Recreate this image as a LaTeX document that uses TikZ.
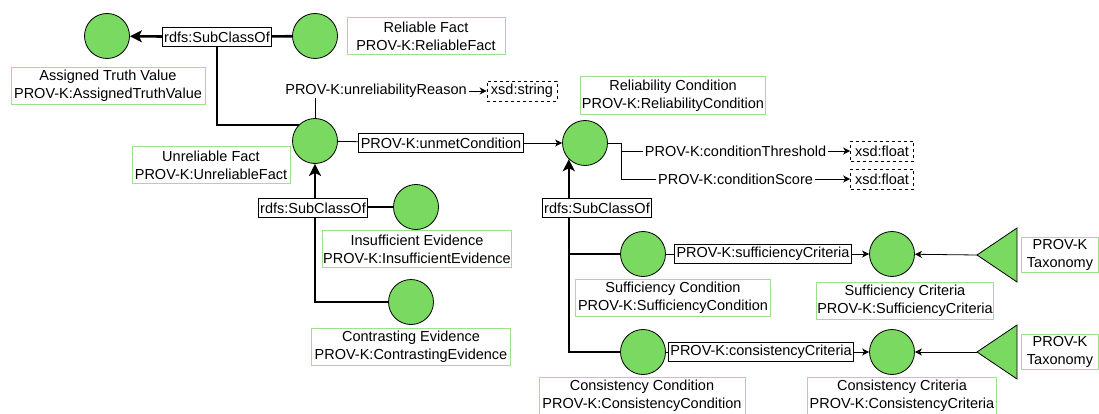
\documentclass[tikz,border=0pt]{standalone}
\usepackage{fontspec}
\setmainfont{Liberation Sans}
\usetikzlibrary{arrows.meta}
\definecolor{classgreen}{RGB}{122,217,96}
\definecolor{namegreen}{RGB}{160,224,140}

\begin{document}
\begin{tikzpicture}[x=1pt,y=-1pt,
    font=\fontsize{14.5}{18}\selectfont,
    cls/.style={circle,draw=black,fill=classgreen,line width=0.8pt,minimum size=45pt,inner sep=0pt},
    tagbox/.style={draw=namegreen,line width=1pt,fill=white,align=center,inner sep=0pt,minimum height=37pt},
    prop/.style={draw=black,fill=white,line width=0.8pt,inner xsep=2pt,inner ysep=0pt,minimum height=19pt},
    lit/.style={draw=black,dashed,line width=0.6pt,inner xsep=2pt,inner ysep=0pt,minimum height=20pt},
    plain/.style={fill=white,inner xsep=2pt,inner ysep=0pt},
    subcls/.style={line width=2.6pt},
    subarr/.style={subcls,-{Stealth[length=12pt,width=12pt,inset=3pt]}},
    rel/.style={line width=0.8pt},
    relarr/.style={rel,-{Stealth[length=7pt,width=7pt,inset=2pt]}},
    tax/.style={draw=black,fill=classgreen,line width=0.8pt}]
    \useasboundingbox (0,0) rectangle (1099,414);

    \node[cls] (atv) at (107,36) {};
    \node[cls] (rf) at (315,36) {};
    \node[cls] (uf) at (315,141) {};
    \node[cls] (rc) at (585,143) {};
    \node[cls] (ie) at (416,207) {};
    \node[cls] (ce) at (411,302) {};
    \node[cls] (sc) at (643,254) {};
    \node[cls] (scr) at (892,254) {};
    \node[cls] (cc) at (643,352) {};
    \node[cls] (ccr) at (892,352) {};

    \node[tagbox,minimum width=194pt] (atvN) at (108,86) {Assigned Truth Value\\PROV-K:AssignedTruthValue};
    \node[tagbox,minimum width=158pt] (rfN) at (426,36) {Reliable Fact\\PROV-K:ReliableFact};
    \node[tagbox,minimum width=158pt] (ufN) at (211,165) {Unreliable Fact\\PROV-K:UnreliableFact};
    \node[tagbox,minimum width=185pt,minimum height=38pt] (rcN) at (673,96) {Reliability Condition\\PROV-K:ReliabilityCondition};
    \node[tagbox,minimum width=189pt] (ieN) at (417,249) {Insufficient Evidence\\PROV-K:InsufficientEvidence};
    \node[tagbox,minimum width=199pt] (ceN) at (411,347) {Contrasting Evidence\\PROV-K:ContrastingEvidence};
    \node[tagbox,minimum width=195pt] (scN) at (673,298) {Sufficiency Condition\\PROV-K:SufficiencyCondition};
    \node[tagbox,minimum width=177pt] (scrN) at (905,301) {Sufficiency Criteria\\PROV-K:SufficiencyCriteria};
    \node[tagbox,minimum width=206pt] (ccN) at (642,396) {Consistency Condition\\PROV-K:ConsistencyCondition};
    \node[tagbox,minimum width=189pt] (ccrN) at (902,396) {Consistency Criteria\\PROV-K:ConsistencyCriteria};
    \node[tagbox,minimum width=77pt,minimum height=35pt] (tax1N) at (1060,255) {PROV-K\\Taxonomy};
    \node[tagbox,minimum width=77pt,minimum height=35pt] (tax2N) at (1060,352) {PROV-K\\Taxonomy};

    \node[lit,minimum width=70pt] (str) at (522,91) {xsd:string};
    \node[lit,minimum width=63pt] (fl1) at (882,151) {xsd:float};
    \node[lit,minimum width=63pt] (fl2) at (882,179) {xsd:float};
    \node[plain] (reason) at (376,91) {PROV-K:unreliabilityReason};

    \node[prop] (sub1) at (217,37) {rdfs:SubClassOf};
    \node[prop] (unmet) at (441,143) {PROV-K:unmetCondition};
    \node[prop] (scrit) at (763,254) {PROV-K:sufficiencyCriteria};
    \node[prop] (ccrit) at (761,352) {PROV-K:consistencyCriteria};

    \coordinate (tx1) at (977,255);
    \coordinate (tx2) at (977,352);
    \draw[tax] (tx1) -- ++(40,-27) -- ++(0,54) -- cycle;
    \draw[tax] (tx2) -- ++(40,-27) -- ++(0,54) -- cycle;

    \draw[subcls] (rf) -- (sub1);
    \draw[subarr] (sub1) -- (atv);
    \draw[subcls] (uf.north west) -| (sub1);
    \draw[rel] (uf) -- (uf |- reason.south);
    \draw[relarr] (reason) -- (str);
    \draw[rel] (uf) -- (unmet);
    \draw[relarr] (unmet) -- (rc);
    \draw[relarr] (rc.east) -- ++(13,0) |- node[plain,pos=0.75] {PROV-K:conditionThreshold} (fl1.west);
    \draw[relarr] (rc.east) -- ++(13,0) |- node[plain,pos=0.75] {PROV-K:conditionScore} (fl2.west);

    \draw[subarr] (ce.west) -| (uf.south);
    \draw[subcls] (ie.west) -- (ie.west -| uf.south);
    \draw[subarr] (cc.west) -| (rc.south west);
    \draw[subcls] (sc.west) -- (sc.west -| rc.south west);

    \draw[rel] (sc) -- (scrit);
    \draw[relarr] (scrit) -- (scr);
    \draw[rel] (cc) -- (ccrit);
    \draw[relarr] (ccrit) -- (ccr);
    \draw[relarr] (tx1) -- (scr);
    \draw[relarr] (tx2) -- (ccr);

    \node[prop] (sub2) at (597,208) {rdfs:SubClassOf};
    \node[prop] (sub3) at (313,208) {rdfs:SubClassOf};
\end{tikzpicture}
\end{document}
